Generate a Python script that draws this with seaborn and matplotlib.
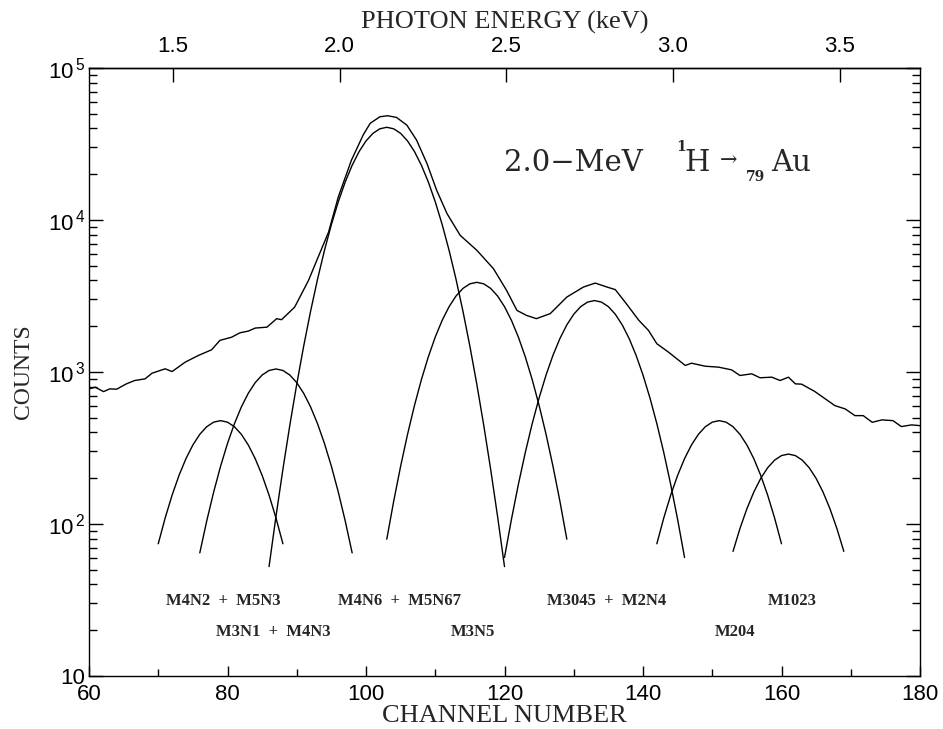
import numpy as np
import pandas as pd
import matplotlib
matplotlib.use("Agg")
import matplotlib.pyplot as plt
import seaborn as sns
from matplotlib.ticker import FuncFormatter, LogLocator, NullFormatter, MultipleLocator, NullLocator

# ---------------- data ----------------
# measured spectrum: channel number and log10(counts)
total_channel = [60.0, 60.9, 62.1, 63.0, 64.0, 65.4, 66.6, 68.1, 69.1, 71.0,
                 72.0, 73.9, 75.8, 77.7, 78.9, 80.6, 81.8, 83.0, 84.0, 85.7,
                 87.1, 87.8, 89.7, 91.7, 93.1, 94.6, 96.0, 97.9, 99.6, 100.6,
                 102.0, 103.1, 104.4, 105.9, 107.3, 108.8, 110.2, 111.7, 113.6, 116.0,
                 118.4, 120.3, 121.8, 123.2, 124.6, 126.6, 129.0, 131.4, 133.1, 134.8,
                 136.0, 137.6, 139.4, 140.8, 142.0, 143.7, 146.1, 147.0, 149.0, 150.9,
                 152.8, 154.0, 155.7, 156.9, 158.6, 159.8, 161.0, 162.0, 162.9, 164.8,
                 167.7, 169.2, 170.6, 171.8, 173.1, 174.5, 176.1, 177.3, 178.8, 180.0]
total_log10 = [2.889, 2.900, 2.871, 2.889, 2.887, 2.922, 2.944, 2.955, 2.992, 3.021,
               3.003, 3.065, 3.109, 3.146, 3.208, 3.229, 3.258, 3.269, 3.289, 3.295,
               3.351, 3.344, 3.427, 3.603, 3.757, 3.921, 4.152, 4.394, 4.560, 4.636,
               4.679, 4.686, 4.675, 4.624, 4.526, 4.372, 4.196, 4.042, 3.899, 3.801,
               3.680, 3.537, 3.405, 3.372, 3.351, 3.384, 3.493, 3.559, 3.585, 3.559,
               3.542, 3.449, 3.340, 3.273, 3.186, 3.130, 3.043, 3.058, 3.038, 3.032,
               3.014, 2.977, 2.988, 2.962, 2.966, 2.944, 2.966, 2.922, 2.920, 2.872,
               2.779, 2.757, 2.713, 2.713, 2.669, 2.685, 2.680, 2.641, 2.652, 2.647]

# fitted peak components: channel number and log10(counts)
m4n2_m5n3_ch = list(range(70, 89))
m4n2_m5n3_log10 = [1.87, 2.04, 2.19, 2.32, 2.43, 2.52, 2.59, 2.64, 2.67, 2.68,
                   2.67, 2.64, 2.59, 2.52, 2.43, 2.32, 2.19, 2.04, 1.87]

m3n1_m4n3_ch = list(range(76, 99))
m3n1_m4n3_log10 = [1.81, 2.02, 2.21, 2.38, 2.53, 2.66, 2.77, 2.86, 2.93, 2.98, 3.01, 3.02,
                   3.01, 2.98, 2.93, 2.86, 2.77, 2.66, 2.53, 2.38, 2.21, 2.02, 1.81]

m4n6_m5n67_ch = list(range(86, 121))
m4n6_m5n67_log10 = [1.72, 2.05, 2.36, 2.65, 2.92, 3.17, 3.40, 3.61, 3.80, 3.97, 4.12, 4.25,
                    4.36, 4.45, 4.52, 4.57, 4.60, 4.61,
                    4.60, 4.57, 4.52, 4.45, 4.36, 4.25, 4.12, 3.97, 3.80, 3.61, 3.40, 3.17,
                    2.92, 2.65, 2.36, 2.05, 1.72]

m3n5_ch = list(range(103, 130))
m3n5_log10 = [1.90, 2.15, 2.38, 2.59, 2.78, 2.95, 3.10, 3.23, 3.34, 3.43, 3.50, 3.55, 3.58,
              3.59,
              3.58, 3.55, 3.50, 3.43, 3.34, 3.23, 3.10, 2.95, 2.78, 2.59, 2.38, 2.15, 1.90]

m3045_m2n4_ch = list(range(120, 147))
m3045_m2n4_log10 = [1.78, 2.03, 2.26, 2.47, 2.66, 2.83, 2.98, 3.11, 3.22, 3.31, 3.38, 3.43, 3.46,
                    3.47,
                    3.46, 3.43, 3.38, 3.31, 3.22, 3.11, 2.98, 2.83, 2.66, 2.47, 2.26, 2.03, 1.78]

m204_ch = list(range(142, 161))
m204_log10 = [1.87, 2.04, 2.19, 2.32, 2.43, 2.52, 2.59, 2.64, 2.67, 2.68,
              2.67, 2.64, 2.59, 2.52, 2.43, 2.32, 2.19, 2.04, 1.87]

m1023_ch = list(range(153, 170))
m1023_log10 = [1.82, 1.97, 2.10, 2.21, 2.30, 2.37, 2.42, 2.45, 2.46,
               2.45, 2.42, 2.37, 2.30, 2.21, 2.10, 1.97, 1.82]

component_labels = ["M4N2  +  M5N3", "M3N1  +  M4N3", "M4N6  +  M5N67", "M3N5",
                    "M3045  +  M2N4", "M204", "M1023"]

# energy calibration (top axis)
cal_channel_ref = 72.1      # channel at the reference energy
cal_energy_ref = 1.5        # keV
cal_ch_per_kev = 48.15
energy_ticks = [1.5, 2.0, 2.5, 3.0, 3.5]
energy_ticklabels = ["1.5", "2.0", "2.5", "3.0", "3.5"]
channel_ticks = [60, 80, 100, 120, 140, 160, 180]

# ---------------- layout ----------------
# label positions in data coordinates (channel, counts)
label_positions = [(79.4, 31), (86.6, 19.5), (104.8, 31), (115.4, 19.5),
                   (134.8, 31), (153.3, 19.5), (161.5, 31)]

sns.set_style("ticks")
plt.rcParams.update({
    "font.family": ["Liberation Sans", "DejaVu Sans"],
    "mathtext.fontset": "custom",
    "mathtext.rm": "Liberation Sans",
    "mathtext.it": "Liberation Sans:italic",
    "mathtext.bf": "Liberation Sans:bold",
    "axes.linewidth": 1.0,
    "axes.edgecolor": "black",
    "xtick.color": "black",
    "ytick.color": "black",
})
SERIF = ["Liberation Serif", "DejaVu Serif"]
WIDE_SERIF = ["DejaVu Serif", "Liberation Serif"]

W, H = 943, 729
fig = plt.figure(figsize=(W / 100, H / 100), dpi=100)
ax = fig.add_axes([89 / W, 1 - 676 / H, 831 / W, 608 / H])

line_kw = dict(color="black", linewidth=1.0, estimator=None, sort=False, ax=ax, legend=False)
sns.lineplot(x=total_channel, y=10 ** np.array(total_log10), **line_kw)

components = [(m4n2_m5n3_ch, m4n2_m5n3_log10), (m3n1_m4n3_ch, m3n1_m4n3_log10),
              (m4n6_m5n67_ch, m4n6_m5n67_log10), (m3n5_ch, m3n5_log10),
              (m3045_m2n4_ch, m3045_m2n4_log10), (m204_ch, m204_log10),
              (m1023_ch, m1023_log10)]
for ch, lg in components:
    sns.lineplot(x=ch, y=10 ** np.array(lg), **line_kw)

ax.set_yscale("log")
ax.set_xlim(60, 180)
ax.set_ylim(10, 1e5)

# x ticks
ax.set_xticks(channel_ticks)
ax.xaxis.set_minor_locator(MultipleLocator(10))
ax.tick_params(axis="x", which="both", direction="in", top=False, bottom=True,
               labelsize=16, pad=6, width=1)
ax.tick_params(axis="x", which="major", length=7)
ax.tick_params(axis="x", which="minor", length=5)

# y ticks
ax.yaxis.set_major_locator(LogLocator(base=10, numticks=10))
ax.yaxis.set_minor_locator(LogLocator(base=10, subs=np.arange(2, 10), numticks=20))
ax.yaxis.set_minor_formatter(NullFormatter())


def yfmt(v, pos):
    e = int(round(np.log10(v)))
    if e == 1:
        return "10"
    return r"$\mathregular{10^{\,%d}}$" % e


ax.yaxis.set_major_formatter(FuncFormatter(yfmt))
ax.tick_params(axis="y", which="both", direction="in", left=True, right=True,
               labelsize=16, pad=3, width=1)
ax.tick_params(axis="y", which="major", length=10)
ax.tick_params(axis="y", which="minor", length=6)

for s in ax.spines.values():
    s.set_visible(True)
    s.set_color("black")
    s.set_linewidth(1.0)


# top energy axis
def ch_to_e(c):
    return cal_energy_ref + (np.asarray(c) - cal_channel_ref) / cal_ch_per_kev


def e_to_ch(e):
    return cal_channel_ref + (np.asarray(e) - cal_energy_ref) * cal_ch_per_kev


secax = ax.secondary_xaxis("top", functions=(ch_to_e, e_to_ch))
secax.set_xticks(energy_ticks)
secax.set_xticklabels(energy_ticklabels)
secax.xaxis.set_minor_locator(NullLocator())
secax.tick_params(axis="x", direction="in", length=10, width=1, labelsize=16, pad=8)
secax.set_xlabel("PHOTON ENERGY (keV)", fontfamily=SERIF, fontsize=19, labelpad=5)

# axis labels
ax.set_xlabel("CHANNEL NUMBER", fontfamily=SERIF, fontsize=19)
ax.xaxis.set_label_coords(0.5, -0.047)
ax.set_ylabel("COUNTS", fontfamily=SERIF, fontsize=17)
ax.yaxis.set_label_coords(-0.066, 0.5)

# component labels
for (lx, ly), txt in zip(label_positions, component_labels):
    ax.text(lx, ly, txt, ha="center", va="center", fontfamily=SERIF,
            fontweight="bold", fontsize=12)

# reaction annotation (pieces placed in pixel coordinates)
def ftext(px, py, s, **kw):
    fig.text(px / W, 1 - py / H, s, ha="left", va="baseline", fontfamily=WIDE_SERIF, **kw)

ftext(504, 171, "2.0\u2212MeV", fontsize=21)
ftext(676, 151, "1", fontsize=10, fontweight="bold")
ftext(684, 171, "H", fontsize=21)
ftext(720, 166, "\u2192", fontsize=15)
ftext(746, 181, "79", fontsize=10, fontweight="bold")
ftext(771, 171, "Au", fontsize=21)

fig.savefig("out.png", dpi=100)
